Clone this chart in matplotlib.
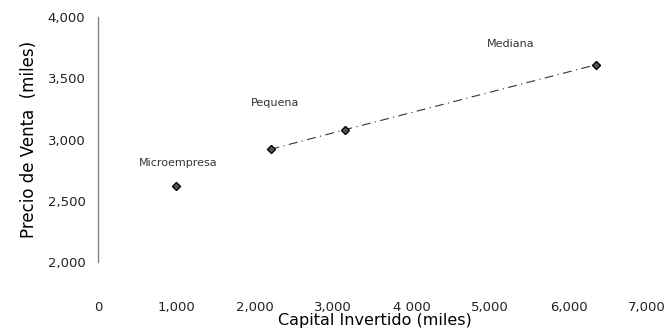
import matplotlib

matplotlib.use("Agg")
import matplotlib.pyplot as plt

# values
capital = [1000, 2200, 3150, 6350]
precio = [2620, 2920, 3080, 3610]
etiquetas = ["Microempresa", "Pequena", None, "Mediana"]
x_ticks = [0, 1000, 2000, 3000, 4000, 5000, 6000, 7000]
x_ticklabels = ["0", "1,000", "2,000", "3,000", "4 000", "5,000", "6,000", "7,000"]
y_ticks = [2000, 2500, 3000, 3500, 4000]
y_ticklabels = ["2,000", "2,500", "3,000", "3,500", "4,000"]

plt.rcParams["font.family"] = ["DejaVu Sans"]

fig = plt.figure(figsize=(6.68, 3.32), dpi=100)
ax = fig.add_axes([98 / 668, 1 - 262 / 332, (647 - 98) / 668, (262 - 17) / 332])

# trend line between the three larger firms
ax.plot(capital[1:], precio[1:], color="#333333", lw=0.8, ls=(0, (8, 4, 1, 4)))
ax.plot(capital, precio, ls="none", marker="D", markersize=4,
        markerfacecolor="#555555", markeredgecolor="black", markeredgewidth=1)

offsets = {"Microempresa": (2, 23), "Pequena": (5, 46), "Mediana": (-85, 21)}
for x, y, label in zip(capital, precio, etiquetas):
    if label is None:
        continue
    ax.annotate(label, (x, y), xytext=offsets[label], textcoords="offset pixels",
                ha="center", va="center", fontsize=8, color="#333333")

ax.set_xlim(0, 7000)
ax.set_ylim(2000, 4000)
ax.set_xticks(x_ticks, x_ticklabels)
ax.set_yticks(y_ticks, y_ticklabels)
ax.tick_params(axis="both", length=0, labelsize=9.5, colors="#222222")
ax.tick_params(axis="x", pad=28)
ax.tick_params(axis="y", pad=9)

for side in ("top", "right", "bottom"):
    ax.spines[side].set_visible(False)
ax.spines["left"].set_color("#888888")
ax.spines["left"].set_linewidth(1)

ax.set_xlabel("Capital Invertido (miles)", fontsize=11.5, va="center")
ax.xaxis.set_label_coords((375 - 98) / 549, -(321 - 262) / 245)
ax.set_ylabel("Precio de Venta  (miles)", fontsize=12, labelpad=7)

fig.savefig("out.png", dpi=100)
